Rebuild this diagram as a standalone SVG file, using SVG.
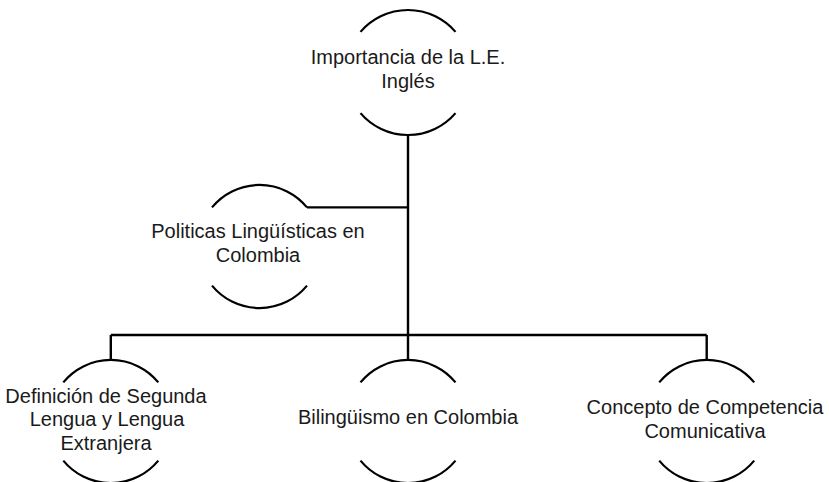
<svg xmlns="http://www.w3.org/2000/svg" width="829" height="482" viewBox="0 0 829 482">
<style>
.arc{fill:none;stroke:#000;stroke-width:2.2}
.con{fill:none;stroke:#000;stroke-width:2.4}
.t{font-family:"Liberation Sans",Arial,sans-serif;font-size:20px;fill:#1a1a1a;text-anchor:middle}
</style>
<rect width="829" height="482" fill="#fff"/>
<g id="connectors">
<path class="con" d="M408,135 V335"/>
<path class="con" d="M307,207.4 H408"/>
<path class="con" d="M110.8,335 H706.7"/>
<path class="con" d="M110.8,335 V360"/>
<path class="con" d="M408,335 V360"/>
<path class="con" d="M706.7,335 V360"/>
</g>
<g id="node-importancia">
<path class="arc" d="M360.5,31.9 A62.5,62.5 0 0 1 455.5,31.9"/>
<path class="arc" d="M455.5,113.1 A62.5,62.5 0 0 1 360.5,113.1"/>
<text class="t" x="408" y="64">Importancia de la L.E.</text>
<text class="t" x="408" y="88">Inglés</text>
</g>
<g id="node-politicas">
<path class="arc" d="M212,207.4 A61.5,61.5 0 0 1 307,207.4"/>
<path class="arc" d="M307,285.6 A61.5,61.5 0 0 1 212,285.6"/>
<text class="t" x="258" y="238">Politicas Lingüísticas en</text>
<text class="t" x="258" y="262">Colombia</text>
</g>
<g id="node-definicion">
<path class="arc" d="M63.3,382.4 A61.5,61.5 0 0 1 158.3,382.4"/>
<path class="arc" d="M158.3,460.6 A61.5,61.5 0 0 1 63.3,460.6"/>
<text class="t" x="106" y="403">Definición de Segunda</text>
<text class="t" x="107" y="426">Lengua y Lengua</text>
<text class="t" x="106" y="450">Extranjera</text>
</g>
<g id="node-bilinguismo">
<path class="arc" d="M360.5,382.4 A61.5,61.5 0 0 1 455.5,382.4"/>
<path class="arc" d="M455.5,460.6 A61.5,61.5 0 0 1 360.5,460.6"/>
<text class="t" x="408" y="424">Bilingüismo en Colombia</text>
</g>
<g id="node-concepto">
<path class="arc" d="M659.2,382.4 A61.5,61.5 0 0 1 754.2,382.4"/>
<path class="arc" d="M754.2,460.6 A61.5,61.5 0 0 1 659.2,460.6"/>
<text class="t" x="705" y="414">Concepto de Competencia</text>
<text class="t" x="705" y="438">Comunicativa</text>
</g>
</svg>
